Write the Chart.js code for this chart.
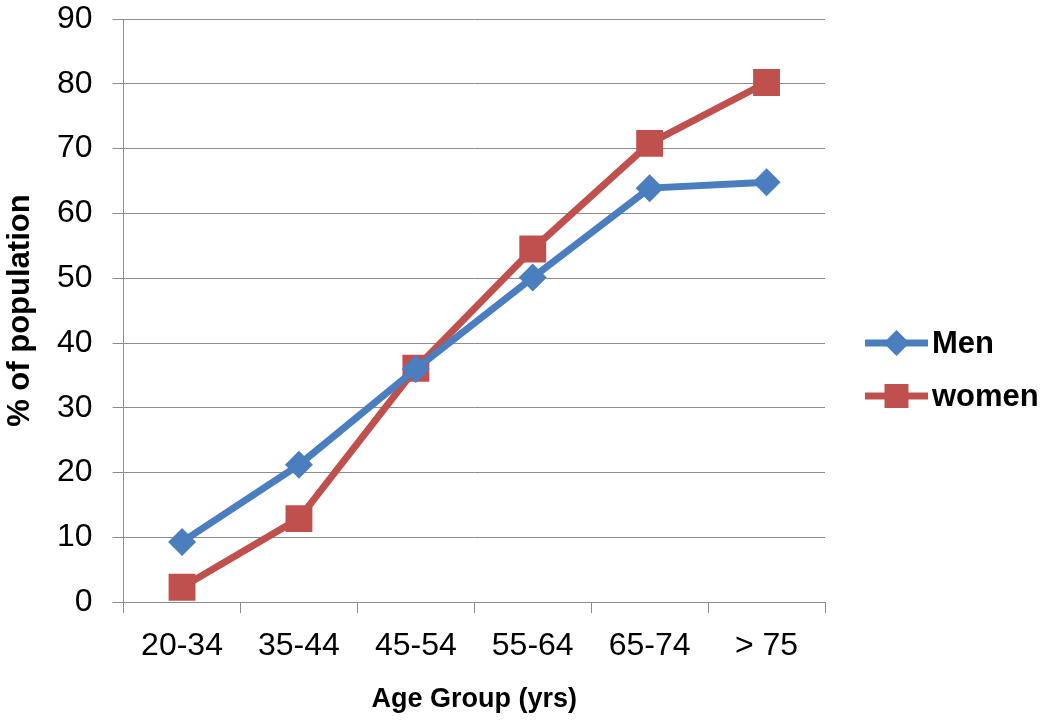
<!DOCTYPE html>
<html>
<head>
<meta charset="utf-8">
<script src="https://cdn.jsdelivr.net/npm/chart.js@4/dist/chart.umd.min.js"></script>
<style>
  html, body { margin: 0; padding: 0; background: #fff; }
  #wrap { width: 1050px; height: 724px; position: relative; }
</style>
</head>
<body>
<div id="wrap"><canvas id="chartAge"></canvas></div>
<script>
'use strict';

// ── 데이터 ──────────────────────────────────────────────────────

var ageGroups   = ['20-34', '35-44', '45-54', '55-64', '65-74', '> 75'];
var menValues   = [9.3, 21.2, 36.0, 50.1, 63.9, 64.8];
var womenValues = [2.3, 12.9, 36.1, 54.5, 70.8, 80.2];
var yTicks      = { min: 0, max: 90, step: 10 };

var BLUE = '#4a7ebf';
var RED  = '#c0504d';
var GRID = '#8c8c8c';
var FONT = '"Liberation Sans", Arial, sans-serif';

// ── 범례 (선 + 마커) ─────────────────────────────────────────────

var sideLegend = {
  id: 'sideLegend',
  afterDraw: function (chart) {
    var ctx = chart.ctx;
    var x0 = chart.chartArea.right + 40, x1 = x0 + 63;
    var rows = [
      { label: 'Men',   color: BLUE, shape: 'diamond', y: 343 },
      { label: 'women', color: RED,  shape: 'square',  y: 396 }
    ];
    ctx.save();
    for (var i = 0; i < rows.length; i++) {
      var r = rows[i];
      var cx = (x0 + x1) / 2;
      ctx.strokeStyle = r.color;
      ctx.lineWidth = 7;
      ctx.beginPath();
      ctx.moveTo(x0, r.y);
      ctx.lineTo(x1, r.y);
      ctx.stroke();
      ctx.fillStyle = r.color;
      ctx.beginPath();
      if (r.shape === 'diamond') {
        ctx.moveTo(cx, r.y - 13);
        ctx.lineTo(cx + 13, r.y);
        ctx.lineTo(cx, r.y + 13);
        ctx.lineTo(cx - 13, r.y);
        ctx.closePath();
      } else {
        ctx.rect(cx - 12, r.y - 12, 24, 24);
      }
      ctx.fill();
      ctx.fillStyle = '#000';
      ctx.font = 'bold 31px ' + FONT;
      ctx.textBaseline = 'middle';
      ctx.textAlign = 'left';
      ctx.fillText(r.label, x1 + 4, r.y + 1);
    }
    ctx.restore();
  }
};

// ── 차트 ────────────────────────────────────────────────────────

new Chart(document.getElementById('chartAge').getContext('2d'), {
  type: 'line',
  data: {
    labels: ageGroups,
    datasets: [{
      label: 'Men',
      data: menValues,
      borderColor: BLUE,
      backgroundColor: BLUE,
      borderWidth: 7,
      tension: 0,
      pointStyle: 'rectRot',
      pointRadius: 14,
      pointBorderWidth: 0,
      pointBackgroundColor: BLUE
    }, {
      label: 'women',
      data: womenValues,
      borderColor: RED,
      backgroundColor: RED,
      borderWidth: 7,
      tension: 0,
      pointStyle: 'rect',
      pointRadius: 19,
      pointBorderWidth: 0,
      pointBackgroundColor: RED
    }]
  },
  options: {
    responsive: true,
    maintainAspectRatio: false,
    animation: false,
    layout: { padding: { top: 19, right: 225, bottom: 0, left: 0 } },
    plugins: {
      legend: { display: false },
      tooltip: { enabled: false }
    },
    scales: {
      x: {
        offset: true,
        grid: { offset: true, drawOnChartArea: false, color: GRID, tickLength: 11 },
        border: { color: GRID },
        ticks: { color: '#000', padding: 14, font: { family: FONT, size: 32 } },
        title: {
          display: true,
          text: 'Age Group (yrs)',
          color: '#000',
          font: { family: FONT, size: 27, weight: 'bold' },
          padding: { top: 4, bottom: 8 }
        }
      },
      y: {
        min: yTicks.min,
        max: yTicks.max,
        afterFit: function (s) { s.paddingTop = 0; s.paddingBottom = 0; },
        grid: { color: GRID, tickLength: 11 },
        border: { color: GRID },
        ticks: { stepSize: yTicks.step, color: '#000', padding: 20, font: { family: FONT, size: 32 } },
        title: {
          display: true,
          text: '% of population',
          color: '#000',
          font: { family: FONT, size: 31, weight: 'bold', lineHeight: 1 },
          padding: { top: 5, bottom: 1 }
        }
      }
    }
  },
  plugins: [sideLegend]
});
</script>
</body>
</html>
